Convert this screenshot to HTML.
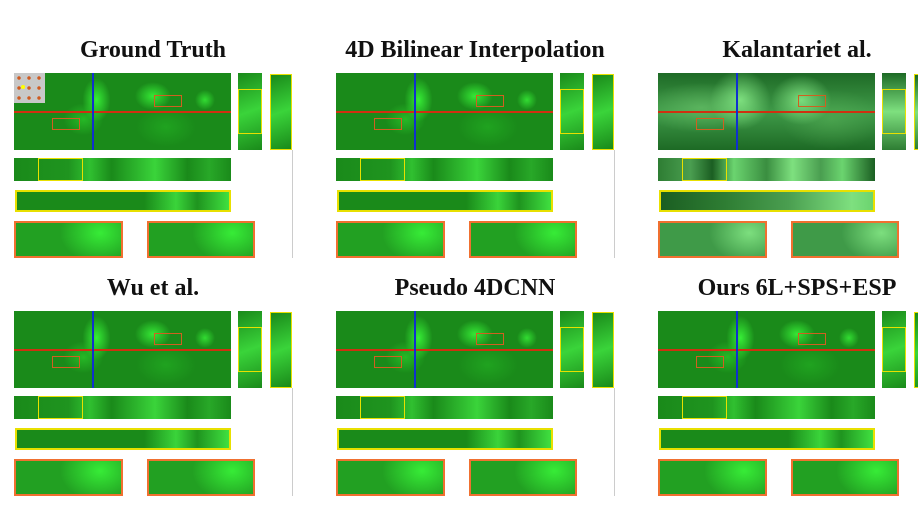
<!DOCTYPE html>
<html><head><meta charset="utf-8">
<style>
html,body{margin:0;padding:0;background:#fff;}
#root{position:relative;width:918px;height:517px;overflow:hidden;background:#fff;}
.t{position:absolute;font-family:"Liberation Serif",serif;font-weight:bold;font-size:24px;color:#111;white-space:nowrap;transform:translateX(-50%) scaleX(1.0);transform-origin:center;line-height:26px;}
.b{position:absolute;box-sizing:border-box;}
</style></head>
<body>
<div id="root"></div>
<script>
const titles=["Ground Truth","4D Bilinear Interpolation","Kalantariet al.","Wu et al.","Pseudo 4DCNN","Ours 6L+SPS+ESP"];
const colX=[0,322,644];
const rowY=[0,238];
const root=document.getElementById('root');
function box(parent,x,y,w,h,bg,border,name){
  const d=document.createElement('div');
  d.className='b';
  d.style.left=x+'px';d.style.top=y+'px';d.style.width=w+'px';d.style.height=h+'px';
  if(bg)d.style.background=bg;
  if(border)d.style.border=border;
  
  
  parent.appendChild(d);
  return d;
}
const sharp=`radial-gradient(ellipse 14px 22px at 38% 35%,rgba(60,255,60,.85),transparent),
radial-gradient(ellipse 18px 14px at 64% 30%,rgba(60,255,60,.8),transparent),
radial-gradient(ellipse 10px 10px at 88% 35%,rgba(60,255,60,.7),transparent),
radial-gradient(ellipse 20px 16px at 32% 60%,rgba(50,230,50,.5),transparent),
radial-gradient(ellipse 30px 20px at 70% 70%,rgba(40,200,40,.4),transparent),
#1a8a1a`;
const blur=`radial-gradient(ellipse 30px 30px at 38% 35%,rgba(140,240,140,.8),transparent),
radial-gradient(ellipse 30px 25px at 66% 35%,rgba(140,240,140,.8),transparent),
radial-gradient(ellipse 60px 25px at 20% 45%,rgba(110,200,110,.6),transparent),
radial-gradient(ellipse 50px 30px at 80% 60%,rgba(90,180,90,.5),transparent),
linear-gradient(180deg,#1e6a26,#3f9a48 50%,#1d6a25)`;
const stripS='linear-gradient(90deg,#1a8a1a,#1f941f 25%,#30c030 35%,#1a8a1a 45%,#3ad43a 65%,#1a8a1a 80%,#28a828 90%,#1a8a1a)';
const stripB='linear-gradient(90deg,#2e7d33,#4a9e50 15%,#1b5e22 25%,#6bd46f 35%,#3a8e40 50%,#7ee07f 62%,#4a9e50 75%,#6bd46f 85%,#1b5e22)';
const longS='linear-gradient(90deg,#1a8a1a,#1a8a1a 60%,#3ad43a 75%,#1f941f 85%,#40e040)';
const longB='linear-gradient(90deg,#1b5e22,#2e7d33 30%,#4a9e50 60%,#7ee07f 90%,#6bd46f)';
const zoomS='radial-gradient(ellipse 40px 30px at 80% 30%,rgba(60,255,60,.8),transparent),#22a022';
const zoomB='radial-gradient(ellipse 40px 30px at 85% 30%,rgba(140,240,140,.8),transparent),#3f9a48';
const vertS='linear-gradient(160deg,#1a8a1a,#3ad43a 50%,#1a8a1a)';
const vertB='linear-gradient(180deg,#1d6a25,#7ee07f 50%,#2e7d33)';
for(let i=0;i<6;i++){
  const ox=colX[i%3], oy=rowY[Math.floor(i/3)];
  const b=(i===2);
  const p=document.createElement('div');
  
  
  p.style.position='absolute';p.style.left=ox+'px';p.style.top=oy+'px';p.style.width='310px';p.style.height='270px';
  root.appendChild(p);
  const t=document.createElement('div');
  t.className='t';t.textContent=titles[i];
  t.style.left='153px';t.style.top='37px';
  
  
  p.appendChild(t);
  const m=box(p,14,73,217,77,b?blur:sharp,null,'main-view');
  box(m,0,38,217,2,'#d03010',null,'horizontal-line');
  box(m,78,0,2,77,'#1030d0',null,'vertical-line');
  box(m,140,22,28,12,null,'1.5px solid #d06020','roi-box-1');
  box(m,38,45,28,12,null,'1.5px solid #d06020','roi-box-2');
  if(i===0){
    const g=box(m,0,0,31,30,'radial-gradient(circle,#d05a20 1.5px,transparent 2px) 0 0/10px 10px,#c8c8c8',null,'sample-grid');
    box(g,7,12,4,4,'#ffff00','none','center-dot').style.borderRadius='50%';
  }
  const s1=box(p,238,73,24,77,b?vertB:vertS,null,'vertical-slice');
  box(s1,0,16,24,45,null,'1.5px solid #e8e000','slice-highlight');
  box(p,270,74,22,76,b?vertB:vertS,'1.5px solid #e8e000','vertical-zoom');
  const r2=box(p,14,158,217,23,b?stripB:stripS,null,'horizontal-slice');
  box(r2,24,0,45,23,null,'1.5px solid #e8e000','slice-highlight');
  box(p,15,190,216,22,b?longB:longS,'2px solid #e8e000','horizontal-zoom');
  box(p,14,221,109,37,b?zoomB:zoomS,'2px solid #f07030','zoom-patch-1');
  box(p,147,221,108,37,b?zoomB:zoomS,'2px solid #f07030','zoom-patch-2');
  box(p,292,150,1,108,'#ccc',null,'separator');
}
</script>
</body></html>
